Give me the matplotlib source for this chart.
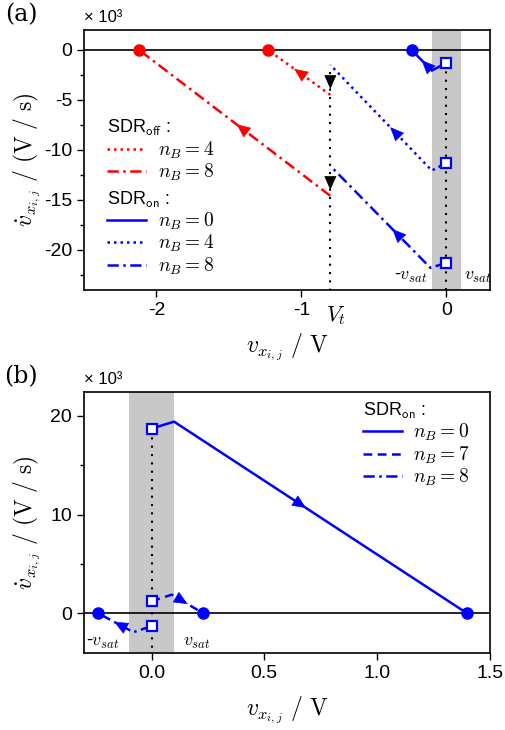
import matplotlib
matplotlib.use("Agg")
import matplotlib.pyplot as plt
import numpy as np

plt.rcParams['font.family'] = ['Liberation Sans', 'DejaVu Sans']
plt.rcParams['mathtext.fontset'] = 'cm'

# ---- data (y values in units of 10^3 V/s) ----
v_sat = 0.1
v_t = -0.8

# panel (a): SDR off
off4_x = [-0.8, -1.23]
off4_y = [-4.5, 0.0]
off8_x = [-0.8, -2.12]
off8_y = [-14.6, 0.0]
# panel (a): SDR on
on0a_x = [0.0, -0.1, -0.24]
on0a_y = [-1.27, -2.07, 0.0]
on4a_x = [0.0, -0.1, -0.8]
on4a_y = [-11.3, -12.07, -1.5]
on8a_x = [0.0, -0.11, -0.8]
on8a_y = [-21.3, -21.8, -11.6]

# panel (b): SDR on
on0b_x = [0.0, 0.1, 1.4]
on0b_y = [18.7, 19.4, 0.0]
on7b_x = [0.0, 0.09, 0.23]
on7b_y = [1.24, 1.9, 0.0]
on8b_x = [0.0, -0.08, -0.235]
on8b_y = [-1.28, -1.9, 0.0]

red = '#ff0000'
blue = '#0000ff'
DOT = (0, (1, 1.6))
DASHDOT = (0, (4.5, 1.8, 1, 1.8))
DASH = (0, (3.5, 2.2))
VDOT = (0, (1, 3))
HEAD = '-|>,head_length=0.9,head_width=0.4'


def arrow_on(ax, xs, ys, seg, t, color):
    x0, y0 = xs[seg], ys[seg]
    x1, y1 = xs[seg + 1], ys[seg + 1]
    hx, hy = x0 + t * (x1 - x0), y0 + t * (y1 - y0)
    tx, ty = x0 + (t - 0.01) * (x1 - x0), y0 + (t - 0.01) * (y1 - y0)
    ax.annotate('', xy=(hx, hy), xytext=(tx, ty),
                arrowprops=dict(arrowstyle=HEAD, color=color, lw=0.5,
                                shrinkA=0, shrinkB=0, mutation_scale=10), zorder=5)


def path(ax, xs, ys, color, ls, end_dot=True):
    ax.plot(xs, ys, color=color, ls=ls, lw=1.8, zorder=3)
    ax.plot(xs[0], ys[0], 's', ms=7, mfc='white', mec=color, mew=1.6, zorder=4)
    if end_dot:
        ax.plot(xs[-1], ys[-1], 'o', ms=8, color=color, zorder=4)


fig = plt.figure(figsize=(5.05, 7.3), dpi=100)
ax1 = fig.add_axes([0.166, 0.603, 0.804, 0.356])
ax2 = fig.add_axes([0.166, 0.1055, 0.804, 0.3575])

# ---------------- panel (a) ----------------
ax1.axvspan(-v_sat, v_sat, color='#c8c8c8', lw=0, zorder=0)
ax1.axhline(0, color='black', lw=1.2, zorder=1)
ax1.plot([0, 0], [on0a_y[0], -24], color='black', ls=VDOT, lw=1.5, zorder=2)
ax1.plot([v_t, v_t], [on4a_y[-1] - 0.7, -24], color='black', ls=VDOT, lw=1.5, zorder=2)

l_off4, = ax1.plot(off4_x, off4_y, color=red, ls=DOT, lw=1.8, zorder=3)
ax1.plot(off4_x[-1], off4_y[-1], 'o', ms=8, color=red, zorder=4)
l_off8, = ax1.plot(off8_x, off8_y, color=red, ls=DASHDOT, lw=1.8, zorder=3)
ax1.plot(off8_x[-1], off8_y[-1], 'o', ms=8, color=red, zorder=4)
arrow_on(ax1, off4_x, off4_y, 0, 0.58, red)
arrow_on(ax1, off8_x, off8_y, 0, 0.49, red)

path(ax1, on0a_x, on0a_y, blue, '-')
path(ax1, on4a_x, on4a_y, blue, DOT, end_dot=False)
path(ax1, on8a_x, on8a_y, blue, DASHDOT, end_dot=False)
arrow_on(ax1, on0a_x, on0a_y, 1, 0.5, blue)
arrow_on(ax1, on4a_x, on4a_y, 1, 0.41, blue)
arrow_on(ax1, on8a_x, on8a_y, 1, 0.38, blue)

# jump arrows at V_t
for top, bot in [(on4a_y[-1], off4_y[0]), (on8a_y[-1], off8_y[0])]:
    mid = 0.5 * (top + bot) - 0.8
    ax1.annotate('', xy=(v_t, mid - 0.1), xytext=(v_t, mid),
                 arrowprops=dict(arrowstyle=HEAD, color='black', lw=0.5,
                                 shrinkA=0, shrinkB=0, mutation_scale=10), zorder=5)

ax1.set_xlim(-2.5, 0.3)
ax1.set_ylim(-24, 2)
ax1.set_xticks([-2, -1, 0])
ax1.set_xticklabels(['-2', '-1', '0'])
ax1.set_yticks([0, -5, -10, -15, -20])
ax1.set_yticklabels(['0', '-5', '-10', '-15', '-20'])
ax1.set_yticks(np.arange(-22.5, 2, 5), minor=True)

ax1.text(-0.13, -22.7, r'-$v_{sat}$', ha='right', va='center', fontsize=13)
ax1.text(0.12, -22.7, r'$v_{sat}$', ha='left', va='center', fontsize=13)
ax1.text(v_t + 0.04, -0.1, r'$V_t$', transform=ax1.get_xaxis_transform(),
         ha='center', va='center', fontsize=16)

h_on0 = plt.Line2D([], [], color=blue, ls='-', lw=1.8)
h_on4 = plt.Line2D([], [], color=blue, ls=DOT, lw=1.8)
h_on8 = plt.Line2D([], [], color=blue, ls=DASHDOT, lw=1.8)

leg_kw = dict(frameon=False, fontsize=14, title_fontsize=13, handlelength=2.0,
              handletextpad=0.6, labelspacing=0.05, borderpad=0, borderaxespad=0,
              alignment='left', loc='upper left')
leg1 = ax1.legend([l_off4, l_off8], [r'$n_B = 4$', r'$n_B = 8$'],
                  title=r'SDR$_{\mathsf{off}}$ :', bbox_to_anchor=(0.057, 0.66), **leg_kw)
ax1.add_artist(leg1)
ax1.legend([h_on0, h_on4, h_on8], [r'$n_B = 0$', r'$n_B = 4$', r'$n_B = 8$'],
           title=r'SDR$_{\mathsf{on}}$ :', bbox_to_anchor=(0.057, 0.385), **leg_kw)

# ---------------- panel (b) ----------------
ax2.axvspan(-v_sat, v_sat, color='#c8c8c8', lw=0, zorder=0)
ax2.axhline(0, color='black', lw=1.2, zorder=1)
ax2.plot([0, 0], [on0b_y[0], -4], color='black', ls=VDOT, lw=1.5, zorder=2)

path(ax2, on0b_x, on0b_y, blue, '-')
path(ax2, on7b_x, on7b_y, blue, DASH)
path(ax2, on8b_x, on8b_y, blue, DASHDOT)
arrow_on(ax2, on0b_x, on0b_y, 1, 0.45, blue)
arrow_on(ax2, on7b_x, on7b_y, 1, 0.5, blue)
arrow_on(ax2, on8b_x, on8b_y, 1, 0.55, blue)

ax2.set_xlim(-0.3, 1.5)
ax2.set_ylim(-4, 22.4)
ax2.set_xticks([0, 0.5, 1.0, 1.5])
ax2.set_xticklabels(['0.0', '0.5', '1.0', '1.5'])
ax2.set_yticks([0, 10, 20])
ax2.set_yticks([5, 15], minor=True)

ax2.text(-0.14, -2.9, r'-$v_{sat}$', ha='right', va='center', fontsize=13)
ax2.text(0.14, -2.9, r'$v_{sat}$', ha='left', va='center', fontsize=13)

h_b0 = plt.Line2D([], [], color=blue, ls='-', lw=1.8)
h_b7 = plt.Line2D([], [], color=blue, ls=DASH, lw=1.8)
h_b8 = plt.Line2D([], [], color=blue, ls=DASHDOT, lw=1.8)
ax2.legend([h_b0, h_b7, h_b8], [r'$n_B = 0$', r'$n_B = 7$', r'$n_B = 8$'],
           title=r'SDR$_{\mathsf{on}}$ :', bbox_to_anchor=(0.687, 0.965), **leg_kw)

# ---------------- common styling ----------------
for ax, lab in [(ax1, '(a)'), (ax2, '(b)')]:
    ax.tick_params(axis='both', which='major', direction='out', length=5,
                   width=1, labelsize=14)
    ax.tick_params(axis='y', which='minor', direction='out', length=3, width=1)
    for s in ax.spines.values():
        s.set_linewidth(1.2)
    ax.set_xlabel(r'$v_{x_{i,j}}\ /\ \mathrm{V}$', fontsize=17)
    ax.set_ylabel(r'$\dot{v}_{x_{i,j}}\ /\ (\mathrm{V\ /\ s})$', fontsize=17)
    ax.xaxis.set_label_coords(0.5, -0.16)
    ax.yaxis.set_label_coords(-0.1, 0.5)
    ax.text(0.0, 1.02, u'\u00d7 10\u00b3', transform=ax.transAxes,
            ha='left', va='bottom', fontsize=12)
    ax.text(-0.155, 1.06, lab, transform=ax.transAxes, ha='center', va='center',
            fontsize=17, family='DejaVu Serif')

fig.savefig('out.png', dpi=100)
